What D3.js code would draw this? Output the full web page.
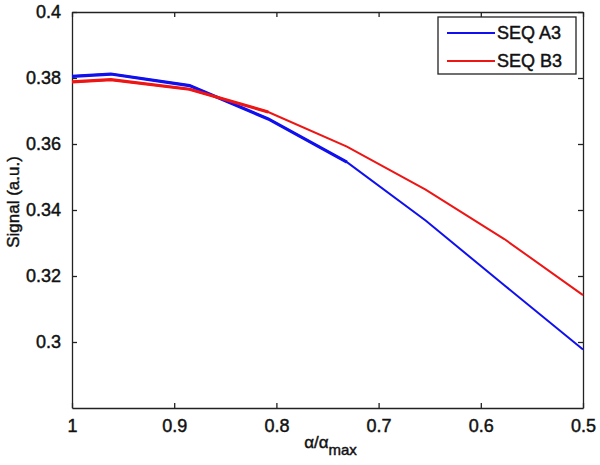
<!DOCTYPE html>
<html>
<head>
<meta charset="utf-8">
<script src="https://cdn.jsdelivr.net/npm/d3@7"></script>
<style>
  body { margin: 0; background: #fff; }
  text { font-family: "Liberation Sans", Arial, sans-serif; fill: #111; stroke: #111; stroke-width: 0.45px; }
</style>
</head>
<body>
<svg width="600" height="465"></svg>
<script>
// values
const alphaRatio = [1, 0.962, 0.885, 0.808, 0.731, 0.654, 0.577, 0.5];
const seqA3 = [0.3805, 0.3812, 0.3777, 0.3676, 0.3545, 0.3368, 0.3172, 0.2977];
const seqB3 = [0.3788, 0.3795, 0.3766, 0.3697, 0.3592, 0.3462, 0.3312, 0.3142];
const xTicks = [1, 0.9, 0.8, 0.7, 0.6, 0.5];
const yTicks = [0.3, 0.32, 0.34, 0.36, 0.38, 0.4];
const seriesNames = ["SEQ A3", "SEQ B3"];
const seriesColors = ["#1010ee", "#ee1515"];

var svg = d3.select("svg"),
    margin = {top: 12, right: 17, bottom: 57, left: 72},
    width = +svg.attr("width") - margin.left - margin.right,
    height = +svg.attr("height") - margin.top - margin.bottom;

var g = svg.append("g")
    .attr("transform", "translate(" + margin.left + "," + margin.top + ")");

var x = d3.scaleLinear().domain([1, 0.5]).range([0, width]);
var y = d3.scaleLinear().domain([0.28, 0.4]).range([height, 0]);

var fmt = d => d3.format("")(+d.toFixed(2));

// axes with inward ticks, MATLAB style
g.append("g")
    .attr("transform", "translate(0," + height + ")")
    .call(d3.axisBottom(x).tickValues(xTicks).tickSizeInner(-5).tickSizeOuter(0).tickPadding(11).tickFormat(fmt));
g.append("g")
    .call(d3.axisLeft(y).tickValues(yTicks).tickSizeInner(-5).tickSizeOuter(0).tickPadding(11).tickFormat(fmt));
g.append("g")
    .call(d3.axisTop(x).tickValues(xTicks).tickSizeInner(-5).tickSizeOuter(0).tickFormat(""));
g.append("g")
    .attr("transform", "translate(" + width + ",0)")
    .call(d3.axisRight(y).tickValues(yTicks).tickSizeInner(-5).tickSizeOuter(0).tickFormat(""));

g.selectAll(".domain").attr("stroke", "#222").attr("stroke-width", 1.3);
g.selectAll(".tick line").attr("stroke", "#222").attr("stroke-width", 1.3);
g.selectAll(".tick text").style("font-size", "18px").attr("fill", "#111");

// series lines
var line = d3.line()
    .x((d, i) => x(alphaRatio[i]))
    .y(d => y(d));

[seqA3, seqB3].forEach((vals, k) => {
  g.append("path")
    .datum(vals)
    .attr("fill", "none")
    .attr("stroke", seriesColors[k])
    .attr("stroke-width", 2)
    .attr("d", line);
  // heavier left part, as in the reference
  g.append("path")
    .datum(vals.slice(0, k == 0 ? 5 : 4))
    .attr("fill", "none")
    .attr("stroke", seriesColors[k])
    .attr("stroke-width", 3.2)
    .attr("d", line);
});

// legend
var leg = g.append("g").attr("transform", "translate(" + (width - 145) + ",5)");
leg.append("rect")
    .attr("width", 138).attr("height", 57)
    .attr("fill", "#fff").attr("stroke", "#222").attr("stroke-width", 1.3);
seriesNames.forEach((name, i) => {
  leg.append("line")
    .attr("x1", 9).attr("x2", 57)
    .attr("y1", 16 + i * 28).attr("y2", 16 + i * 28)
    .attr("stroke", seriesColors[i]).attr("stroke-width", 2.2);
  leg.append("text")
    .attr("x", 59).attr("y", 16 + i * 28)
    .attr("dy", "0.35em")
    .style("font-size", "18px")
    .text(name);
});

// axis titles
svg.append("text")
    .attr("transform", "translate(19," + (margin.top + height / 2 - 8) + ") rotate(-90)")
    .attr("text-anchor", "middle")
    .style("font-size", "17px")
    .text("Signal (a.u.)");

var xl = svg.append("text")
    .attr("x", margin.left + width / 2 + 3)
    .attr("y", 448)
    .attr("text-anchor", "middle")
    .style("font-size", "17px");
xl.append("tspan").text("α/α");
xl.append("tspan").attr("dy", 7).style("font-size", "15px").text("max");
</script>
</body>
</html>
